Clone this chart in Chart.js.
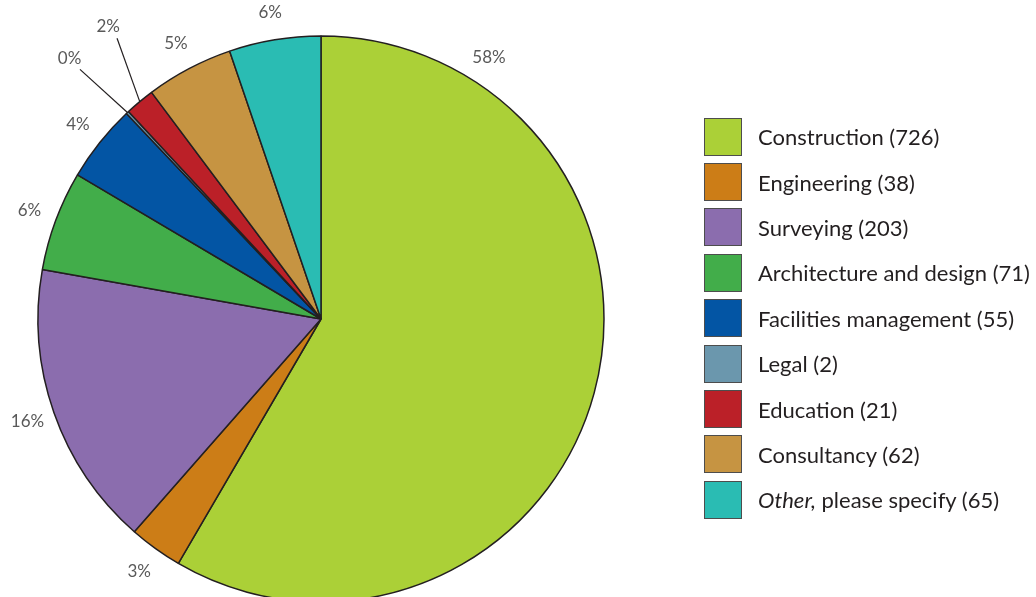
<!DOCTYPE html>
<html>
<head>
<meta charset="utf-8">
<script src="https://cdn.jsdelivr.net/npm/chart.js@4/dist/chart.umd.min.js"></script>
<style>
  html, body { margin: 0; padding: 0; background: #fff; overflow: hidden; }
  #wrap { position: relative; width: 1036px; height: 597px; }
  #pieChart { position: absolute; left: 0; top: 0; }
  #legend { position: absolute; left: 704px; top: 114px; font-family: Lato, "Open Sans", sans-serif; font-size: 22px; color: #231f20; }
  .item { display: flex; align-items: center; height: 45.4px; }
  .swatch { width: 36px; height: 36px; border: 1px solid #4d4d4d; box-sizing: content-box; margin-right: 16px; }
  .item em { font-style: italic; }
</style>
</head>
<body>
<div id="wrap">
  <canvas id="pieChart" width="1036" height="597"></canvas>
  <div id="legend"></div>
</div>
<script>
const categories = ['Construction', 'Engineering', 'Surveying', 'Architecture and design',
  'Facilities management', 'Legal', 'Education', 'Consultancy', 'Other, please specify'];
const responses = [726, 38, 203, 71, 55, 2, 21, 62, 65];
const percentLabels = ['58%', '3%', '16%', '6%', '4%', '0%', '2%', '5%', '6%'];
const sliceColors = ['#abd037', '#cc7d17', '#8b6dae', '#42ad4a', '#0355a4',
  '#6b97ad', '#bb2028', '#c69442', '#2abcb3'];

// percentage labels outside the pie; small slices get a leader line
const outsideLabels = {
  id: 'outsideLabels',
  afterDatasetsDraw(chart, args, opts) {
    const ctx = chart.ctx;
    const arcs = chart.getDatasetMeta(0).data;
    ctx.save();
    ctx.font = '17px Lato, "Open Sans", sans-serif';
    ctx.fillStyle = '#595959';
    ctx.textAlign = 'center';
    ctx.textBaseline = 'middle';
    arcs.forEach((arc, i) => {
      const p = arc.getProps(['x', 'y', 'startAngle', 'endAngle', 'outerRadius'], true);
      const mid = (p.startAngle + p.endAngle) / 2;
      let ang = mid;
      if (opts.angles[i] !== undefined) ang = opts.angles[i] * Math.PI / 180 - Math.PI / 2;
      let dist = p.outerRadius + opts.offset;
      if (opts.leaders.includes(i)) {
        const r1 = p.outerRadius + opts.leaderLength;
        ctx.beginPath();
        ctx.moveTo(p.x + Math.cos(mid) * p.outerRadius, p.y + Math.sin(mid) * p.outerRadius);
        ctx.lineTo(p.x + Math.cos(ang) * r1, p.y + Math.sin(ang) * r1);
        ctx.strokeStyle = '#231f20';
        ctx.lineWidth = 1.2;
        ctx.stroke();
        dist = r1 + 15;
      }
      ctx.fillText(percentLabels[i], p.x + Math.cos(ang) * dist, p.y + Math.sin(ang) * dist);
    });
    ctx.restore();
  }
};

const chart = new Chart(document.getElementById('pieChart'), {
  type: 'pie',
  data: {
    labels: categories,
    datasets: [{
      data: responses,
      backgroundColor: sliceColors,
      borderColor: '#231f20',
      borderWidth: 1.5,
      clip: false
    }]
  },
  options: {
    responsive: false,
    animation: false,
    radius: 283,
    layout: { padding: { left: 0, right: 394, top: 41, bottom: 0 } },
    plugins: {
      legend: { display: false },
      tooltip: { enabled: false },
      outsideLabels: {
        offset: 28,
        leaderLength: 64,
        angles: { 0: 32.7, 5: -44, 6: -36 },
        leaders: [5, 6]
      }
    }
  },
  plugins: [outsideLabels]
});

// legend with counts, built from the chart's own legend items
const legendEl = document.getElementById('legend');
const items = Chart.overrides.pie.plugins.legend.labels.generateLabels(chart);
items.forEach((item, i) => {
  const row = document.createElement('div');
  row.className = 'item';
  const sw = document.createElement('div');
  sw.className = 'swatch';
  sw.style.background = item.fillStyle;
  const txt = document.createElement('span');
  let name = item.text;
  if (name.startsWith('Other,')) name = '<em>Other,</em>' + name.slice(6);
  txt.innerHTML = `${name} (${responses[i]})`;
  row.appendChild(sw);
  row.appendChild(txt);
  legendEl.appendChild(row);
});
</script>
</body>
</html>
